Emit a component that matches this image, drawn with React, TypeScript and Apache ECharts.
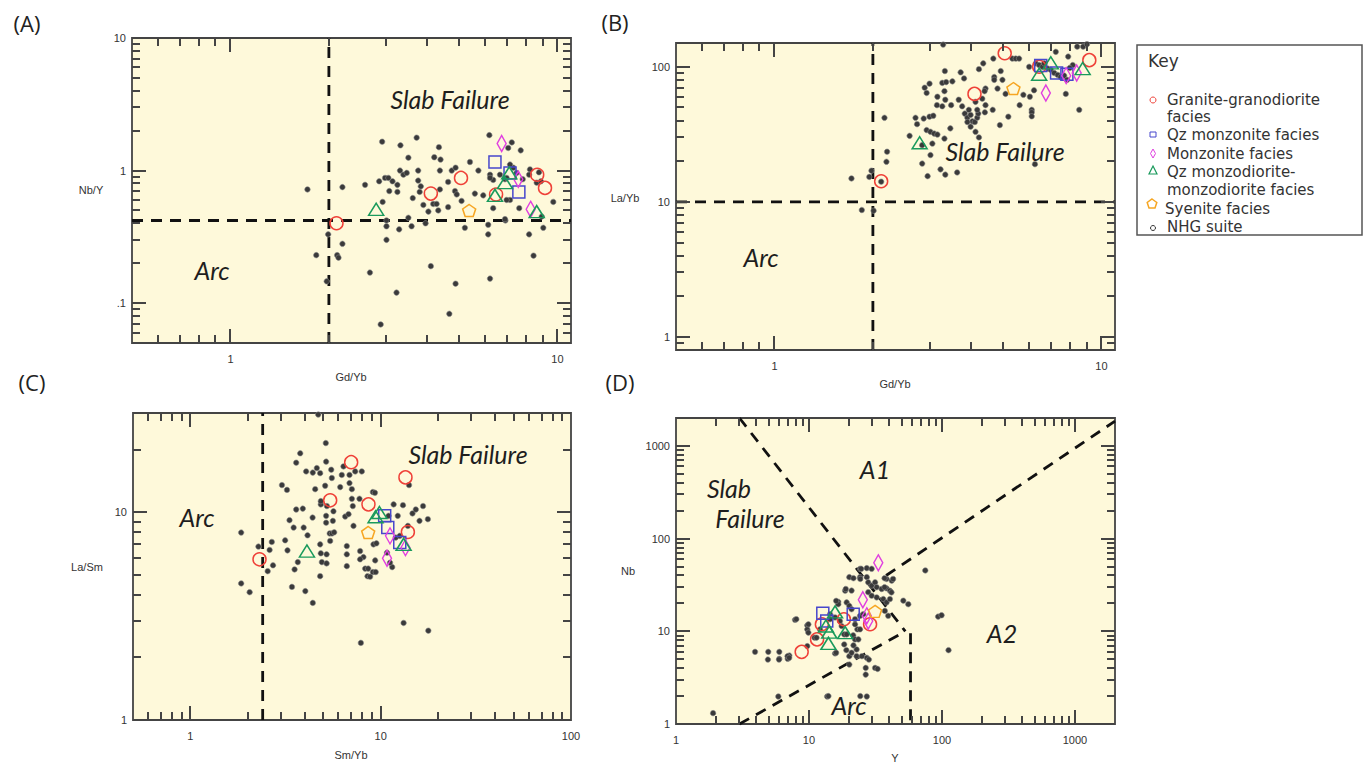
import React, { useEffect, useRef } from "react";
import * as echarts from "echarts";

// ---------------- DATA ----------------
// Panel A: Nb/Y vs Gd/Yb
const aNHG = [[1.72,0.72],[2.2,0.75],[2.58,0.78],[2.85,0.83],[2.97,0.88],[3.04,0.88],[3.13,0.83],[3.24,0.78],[3.06,0.7],[3.24,0.69],[2.92,0.58],[3.3,1.0],[3.38,0.93],[3.46,0.96],[3.5,1.25],[3.31,1.55],[2.91,1.65],[3.71,1.77],[3.75,1.0],[3.75,0.84],[3.82,0.76],[3.79,0.69],[3.89,0.55],[4.03,0.49],[4.17,0.56],[4.27,0.56],[4.32,0.5],[4.2,1.26],[4.39,1.21],[4.34,1.5],[4.37,1.0],[4.37,0.72],[3.61,0.62],[4.63,0.53],[4.63,0.82],[4.75,1.0],[4.88,1.05],[4.86,0.7],[4.92,0.66],[5.09,0.59],[5.4,1.16],[5.73,1.0],[5.59,0.67],[5.93,0.65],[6.19,1.85],[6.22,0.93],[6.36,0.52],[5.21,0.37],[6.14,0.39],[6.14,0.33],[6.91,0.86],[7.16,0.6],[6.93,0.42],[3.5,0.44],[3.58,0.38],[3.95,0.4],[3.28,0.36],[3.0,0.38],[3.0,0.3],[3.0,0.42],[2.2,0.28],[1.99,0.33],[1.83,0.23],[2.12,0.23],[2.14,0.22],[1.97,0.146],[2.67,0.17],[3.22,0.12],[4.1,0.19],[4.88,0.14],[6.22,0.153],[4.67,0.083],[2.88,0.069],[7.72,1.42],[7.07,1.48],[7.33,1.05],[7.5,0.96],[7.83,0.86],[8.24,1.02],[8.19,0.93],[8.64,0.81],[9.71,0.58],[9.05,0.37],[8.19,0.33],[8.45,0.228],[7.64,0.52],[8.95,0.45],[6.99,0.6],[6.91,0.43],[6.67,0.93],[6.99,0.88],[7.16,1.11],[6.36,0.85],[6.22,0.88],[7.25,1.63],[8.78,0.97],[8.9,0.83]];
const aGranite = [[2.11,0.4],[4.1,0.67],[5.07,0.88],[6.49,0.66],[8.67,0.93],[9.16,0.74]];
const aQzMonzonite = [[6.44,1.16],[7.16,0.96],[7.62,0.69]];
const aMonzonite = [[6.75,1.6],[7.59,0.86],[8.28,0.51]];
const aQzMonzodiorite = [[2.79,0.51],[6.44,0.65],[6.91,0.81],[7.12,0.96],[8.64,0.49]];
const aSyenite = [[5.37,0.5]];

// Panel B: La/Yb vs Gd/Yb
const bNHG = [[1.72,14.9],[1.95,15.3],[2.12,14.1],[2.17,41.9],[2.21,23.5],[2.2,19.8],[2.59,30.8],[2.7,41.9],[2.73,37.6],[2.86,41.4],[2.98,42.7],[3.06,43.4],[2.92,34],[3.0,33],[3.08,32],[3.15,31.5],[2.88,70],[2.92,64],[2.98,75],[2.83,26.3],[2.83,19.2],[3.0,22.2],[2.94,15.5],[3.15,60],[3.14,52],[3.26,76],[3.35,77],[3.5,78],[3.32,93],[3.31,66],[3.33,57],[3.26,51],[3.47,52],[3.45,35],[3.31,29.4],[3.22,17.4],[3.33,15.9],[3.62,16.5],[3.04,27],[3.71,91],[3.8,82],[3.75,51],[3.82,45],[3.89,42],[3.98,44],[4.03,39.5],[3.89,39],[4.1,39],[4.17,42],[4.2,45],[3.93,48],[4.17,48],[4.4,46],[3.98,36],[4.12,33],[4.22,30],[4.22,96],[4.35,106],[4.42,69],[4.39,66],[4.42,52],[4.65,48],[4.67,115],[4.7,84],[4.7,80],[4.92,93],[4.98,80],[4.81,69],[4.89,37],[5.19,42.7],[5.09,63],[5.34,115],[5.47,115],[5.6,115],[5.62,52],[5.77,62],[6.04,60],[6.12,48],[6.12,46],[6.12,43],[6.01,100],[6.22,67],[6.26,19],[6.3,106],[6.45,103],[6.6,100],[6.68,106],[6.85,97],[7.0,95],[7.17,90],[7.35,87],[7.5,84],[7.69,86],[7.85,80],[7.25,129],[7.91,119],[7.78,63],[8.55,48],[8.43,141],[8.79,141],[9.03,147],[8.17,103],[8.0,98],[3.28,146],[3.66,57],[4.32,58],[4.12,55],[1.85,8.7],[2.01,8.6],[1.98,17]];
const bGranite = [[2.12,14.2],[4.09,63],[5.06,126],[9.18,112],[6.45,100]];
const bQzMonzonite = [[6.52,102],[7.29,90],[7.84,88]];
const bMonzonite = [[6.76,64],[7.8,86],[8.4,90]];
const bQzMonzodiorite = [[2.78,27.4],[6.45,88],[7.0,107],[8.76,97]];
const bSyenite = [[5.38,69]];

// Panel C: La/Sm vs Sm/Yb
const cNHG = [[1.85,7.98],[1.85,4.54],[2.05,4.12],[2.28,6.83],[2.55,5.2],[2.72,5.55],[2.61,6.58],[2.68,7.19],[3.03,13.5],[3.22,12.8],[3.15,7.32],[3.24,6.55],[3.32,9.15],[3.49,8.43],[3.6,10.3],[3.9,10.4],[3.6,17.3],[3.78,19.2],[3.53,5.3],[3.67,5.75],[3.42,4.37],[3.94,8.43],[4.02,4.17],[4.06,15.7],[4.13,7.74],[4.39,9.42],[4.4,3.66],[4.53,12.9],[4.4,15.5],[4.62,16.3],[4.81,15.4],[4.85,10.9],[4.85,11.3],[4.81,7.0],[4.85,6.34],[4.91,5.75],[4.81,4.92],[5.15,21.5],[5.17,17.5],[5.11,13.4],[5.17,9.6],[5.17,8.9],[5.22,10.7],[5.2,6.27],[5.2,5.67],[5.4,7.9],[5.55,7.9],[5.7,8.0],[5.43,7.27],[5.5,16],[5.54,14.6],[5.65,10.1],[5.61,9.08],[6.13,13.2],[6.25,15.1],[6.38,16.6],[6.51,9.53],[6.64,6.87],[6.64,6.27],[6.64,5.5],[6.78,9.78],[6.86,13.8],[6.86,15.1],[7.06,12.9],[7.06,11.6],[7.14,10.7],[7.2,8.59],[7.35,15.7],[7.96,15.7],[7.74,11.6],[7.8,6.5],[7.87,2.35],[8.12,6.08],[8.29,5.35],[8.53,4.92],[9.1,12.5],[9.17,7.0],[9.1,5.15],[9.36,5.86],[4.7,29.5],[9.33,12.4],[11.7,10.9],[13.1,10.8],[14.7,9.86],[15.3,10.3],[16.7,10.7],[16,9.08],[17.7,9.25],[14.1,13.5],[12.3,9.6],[13.2,2.93],[17.8,2.69],[11.5,5.44],[11.2,5.71],[10.8,6.38],[12.0,7.55],[12.6,7.69],[9.42,5.15],[8.8,4.89],[8.6,5.35],[9.5,7.08],[13.9,8.59],[11,9.6],[7.8,5.93]];
const cGranite = [[2.31,5.93],[7.0,17.4],[5.43,11.4],[8.63,10.9],[13.5,14.7],[13.9,8.03]];
const cQzMonzonite = [[10.5,9.6],[10.9,8.43],[12.6,7.14]];
const cMonzonite = [[11.2,7.69],[10.8,6.0],[13.5,6.75]];
const cQzMonzodiorite = [[4.1,6.5],[9.85,9.96],[9.4,9.5],[13.2,7.0]];
const cSyenite = [[8.6,7.98]];

// Panel D: Nb vs Y
const dNHG = [[3.93,6.0],[4.94,6.0],[5.98,6.0],[5.98,5.05],[7.11,5.48],[6.92,5.05],[7.85,13.3],[9.71,11.6],[9.71,10.5],[9.71,6.92],[11.0,8.54],[5.88,1.98],[13.7,1.98],[15.7,5.77],[16.6,20.8],[16.6,19.6],[18.7,27.4],[19.2,20.5],[20.1,18.8],[20.9,17.3],[18.4,9.27],[18.4,7.22],[20.1,5.39],[20.9,5.87],[20.1,4.38],[22.8,5.39],[21.5,9.05],[22.2,8.18],[23.1,10.5],[24.2,10.5],[22.2,11.9],[22.2,13.5],[24.2,14.7],[25.6,15.3],[26.7,4.03],[26.7,3.41],[31.4,4.03],[27.2,1.98],[24.2,47.2],[27.2,48],[29.6,47.2],[24.2,38.4],[27.2,38.4],[20.1,38.4],[27.9,33.8],[29.6,31.1],[31.4,33.8],[32.3,29.9],[35.2,28.6],[38.3,29.1],[40.6,27.4],[27.9,26.4],[29.6,24.2],[32.3,23.2],[36.2,22.3],[38.3,20.5],[40.6,22.3],[37.2,16.6],[39.4,14.7],[38.3,36.7],[41.9,35.2],[51.2,21.4],[55.8,19.6],[23.5,8.18],[22.8,6.37],[27.2,5.18],[14.4,15.3],[14.4,13.5],[15.7,14.1],[12.1,10.5],[11.4,8.54],[17.1,12.9],[17.6,11.4],[19.2,9.27],[1.9,1.31],[14,2.0],[24.3,2.0],[32.8,3.93],[74.9,45.3],[93.5,14.4],[99.3,14.9],[112,6.26],[41.7,26.3],[42.9,36.7],[37,29.9],[37,37.4],[24.7,47.2],[21.6,37.4],[24.3,36.7],[20.9,27.5],[18.9,28.6],[16,21.3],[8.03,13.5],[9.89,11.9],[9.89,9.68],[6.9,5.39],[7.1,5.18],[4.91,4.96],[5.95,4.96],[16,5.87],[19.1,6.26],[21.6,7.05],[25,5.39],[28.2,4.96]];
const dGranite = [[8.81,6.0],[11.5,8.18],[12.5,11.9],[18.3,13.5],[28.8,11.9]];
const dQzMonzonite = [[12.7,15.7],[21.5,15.3],[13.6,12.9]];
const dMonzonite = [[33.2,54.8],[25.4,21.9],[27.2,14.7],[27.9,12.9]];
const dQzMonzodiorite = [[13.4,11.4],[14,7.41],[15.7,16.2],[18.7,9.68],[14.2,9.8]];
const dSyenite = [[31.4,16.4]];

// Boundary lines (data coordinates)
const aBoundaries = [[[2, 0.05], [2, 10]], [[0.5, 0.42], [11, 0.42]]];
const bBoundaries = [[[2, 0.8], [2, 150]], [[0.5, 10], [11, 10]]];
const cBoundaries = [[[2.4, 1], [2.4, 30]]];
const dBoundaries = [
  [[3, 2000], [53, 10]],
  [[3, 1], [53, 10]],
  [[58, 9.5], [58, 1]],
  [[38, 40], [2000, 1850]],
];

// Axis ranges
const aRange = { x: [0.5, 11], y: [0.05, 10] };
const bRange = { x: [0.5, 11], y: [0.8, 150] };
const cRange = { x: [0.5, 100], y: [1, 30] };
const dRange = { x: [1, 2000], y: [1, 2000] };

// Tick positions (major ticks are the labelled decades)
const abXTicks = [0.6, 0.7, 0.8, 0.9, 1, 2, 3, 4, 5, 6, 7, 8, 9, 10];
const aYTicks = [0.06, 0.07, 0.08, 0.09, 0.1, 0.2, 0.3, 0.4, 0.5, 0.6, 0.7, 0.8, 0.9, 1, 2, 3, 4, 5, 6, 7, 8, 9];
const bYTicks = [0.9, 1, 2, 3, 4, 5, 6, 7, 8, 9, 10, 20, 30, 40, 50, 60, 70, 80, 90, 100];
const cXTicks = [0.6, 0.7, 0.8, 0.9, 1, 2, 3, 4, 5, 6, 7, 8, 9, 10, 20, 30, 40, 50, 60, 70, 80, 90];
const cYTicks = [2, 3, 4, 5, 6, 7, 8, 9, 10, 20];
const dTicks = [2, 3, 4, 5, 6, 7, 8, 9, 10, 20, 30, 40, 50, 60, 70, 80, 90, 100, 200, 300, 400, 500, 600, 700, 800, 900, 1000];

const legendNames = [
  "Granite-granodiorite facies",
  "Qz monzonite facies",
  "Monzonite facies",
  "Qz monzodiorite-monzodiorite facies",
  "Syenite facies",
  "NHG suite",
];

// ---------------- STYLE ----------------
const BG = "#FEF9DA";
const RED = "#EF4138";
const BLUE = "#4747CC";
const MAG = "#E040E0";
const GREEN = "#1A9A5C";
const ORANGE = "#F6A623";
const FRAME = "#444444";
const PENTA = "path://M50,0 L97.6,34.5 L79.4,90.5 L20.6,90.5 L2.4,34.5 Z";
const LBL_FONT = "'Liberation Sans', Arial, sans-serif";
const REGION_FONT = "Lato, 'Open Sans', sans-serif";

const panels = [
  {
    grid: { left: 132, top: 38, width: 439, height: 305 },
    range: aRange, lines: aBoundaries, xt: abXTicks, yt: aYTicks,
    sets: [aNHG, aGranite, aQzMonzonite, aMonzonite, aQzMonzodiorite, aSyenite],
  },
  {
    grid: { left: 676, top: 43, width: 439, height: 307 },
    range: bRange, lines: bBoundaries, xt: abXTicks, yt: bYTicks,
    sets: [bNHG, bGranite, bQzMonzonite, bMonzonite, bQzMonzodiorite, bSyenite],
  },
  {
    grid: { left: 133, top: 413, width: 438, height: 307 },
    range: cRange, lines: cBoundaries, xt: cXTicks, yt: cYTicks,
    sets: [cNHG, cGranite, cQzMonzonite, cMonzonite, cQzMonzodiorite, cSyenite],
  },
  {
    grid: { left: 676, top: 418, width: 439, height: 306 },
    range: dRange, lines: dBoundaries, xt: dTicks, yt: dTicks,
    sets: [dNHG, dGranite, dQzMonzonite, dMonzonite, dQzMonzodiorite, dSyenite],
  },
];

function isDecade(v: number) {
  const l = Math.log10(v);
  return Math.abs(l - Math.round(l)) < 1e-6;
}

function decadeLabel(v: number) {
  const l = Math.log10(v);
  const r = Math.round(l);
  if (Math.abs(l - r) > 1e-6) return "";
  if (r === -1) return ".1";
  return String(Math.round(Math.pow(10, r)));
}

function buildOption() {
  const grid: any[] = [];
  const xAxis: any[] = [];
  const yAxis: any[] = [];
  const series: any[] = [];

  panels.forEach((p, i) => {
    grid.push({
      ...p.grid, show: true, backgroundColor: BG, borderColor: FRAME, borderWidth: 1.8,
    });
    const axisCommon = {
      type: "log", logBase: 10, gridIndex: i,
      axisLine: { show: false }, axisTick: { show: false }, splitLine: { show: false },
      minorTick: { show: false }, minorSplitLine: { show: false },
    };
    xAxis.push({
      ...axisCommon, min: p.range.x[0], max: p.range.x[1],
      axisLabel: { formatter: decadeLabel, color: "#333", fontSize: 11, fontFamily: LBL_FONT, margin: 10 },
    });
    yAxis.push({
      ...axisCommon, min: p.range.y[0], max: p.range.y[1],
      axisLabel: { formatter: decadeLabel, color: "#333", fontSize: 11, fontFamily: LBL_FONT, margin: 6 },
    });

    p.lines.forEach((ln) => {
      series.push({
        type: "line", xAxisIndex: i, yAxisIndex: i, data: ln, symbol: "none", showSymbol: false,
        silent: true, z: 3, clip: false, lineStyle: { color: "#111", width: 2.8, type: [11, 8] },
      });
    });

    const [nhg, gran, qzm, monz, qzmd, syen] = p.sets;
    series.push({
      type: "scatter", name: legendNames[5], xAxisIndex: i, yAxisIndex: i, data: nhg, z: 4,
      symbol: "circle", symbolSize: 5.5,
      itemStyle: { color: "#3a3a3a", borderColor: "#8a8a8a", borderWidth: 0.6, opacity: 1 },
    });
    const open = (c: string) => ({ color: "rgba(0,0,0,0)", borderColor: c, borderWidth: 1.5, opacity: 1 });
    series.push({ type: "scatter", name: legendNames[0], xAxisIndex: i, yAxisIndex: i, data: gran, z: 5, symbol: "circle", symbolSize: 13, itemStyle: open(RED) });
    series.push({ type: "scatter", name: legendNames[1], xAxisIndex: i, yAxisIndex: i, data: qzm, z: 5, symbol: "rect", symbolSize: 12, itemStyle: open(BLUE) });
    series.push({ type: "scatter", name: legendNames[2], xAxisIndex: i, yAxisIndex: i, data: monz, z: 5, symbol: "diamond", symbolSize: [9, 16], itemStyle: open(MAG) });
    series.push({ type: "scatter", name: legendNames[3], xAxisIndex: i, yAxisIndex: i, data: qzmd, z: 5, symbol: "triangle", symbolSize: [15, 12], itemStyle: open(GREEN) });
    series.push({ type: "scatter", name: legendNames[4], xAxisIndex: i, yAxisIndex: i, data: syen, z: 5, symbol: PENTA, symbolSize: [13, 12], itemStyle: open(ORANGE) });
  });

  return { animation: false, backgroundColor: "#fff", grid, xAxis, yAxis, series };
}

function buildGraphic(tickEls: any[]) {
  const txt = (text: string, x: number, y: number, font: any) => ({
    type: "text", x, y, z: 100, silent: true,
    style: { text, fill: "#222", align: "center", verticalAlign: "middle", ...font },
  });
  const region = { fontSize: 25, fontStyle: "italic", fontFamily: REGION_FONT, fill: "#1e1e1e" };
  const axname = { fontSize: 11, fontFamily: LBL_FONT, fill: "#333" };
  const plab = { fontSize: 22, fontFamily: "'Open Sans', sans-serif", fill: "#222" };
  const key = { fontSize: 15, fontFamily: "'DejaVu Sans', Verdana, sans-serif", fill: "#333", align: "left" };
  return [
    ...tickEls,
    txt("(A)", 27, 23, plab), txt("(B)", 615, 22, plab), txt("(C)", 32, 382, plab), txt("(D)", 620, 382, plab),
    txt("Slab Failure", 450, 99, region), txt("Arc", 212, 270, region),
    txt("Slab Failure", 1005, 151, region), txt("Arc", 761, 257, region),
    txt("Slab Failure", 468, 454, region), txt("Arc", 197, 517, region),
    txt("A1", 875, 469, region), txt("Slab", 729, 488, region), txt("Failure", 750, 518, region),
    txt("A2", 1002, 633, region), txt("Arc", 849, 705, region),
    txt("Nb/Y", 91, 190, axname), txt("Gd/Yb", 351, 377, axname),
    txt("La/Yb", 625, 198, axname), txt("Gd/Yb", 895, 384, axname),
    txt("La/Sm", 87, 567, axname), txt("Sm/Yb", 351, 755, axname),
    txt("Nb", 628, 571, axname), txt("Y", 895, 758, axname),
    { type: "rect", z: 90, shape: { x: 1137, y: 45, width: 225, height: 190 }, style: { fill: "#fff", stroke: "#555", lineWidth: 1.5 } },
    txt("Key", 1148, 61, { ...key, fontSize: 17 }),
    txt("Granite-granodiorite", 1167, 100, key), txt("facies", 1167, 117, key),
    txt("Qz monzonite facies", 1167, 135, key),
    txt("Monzonite facies", 1167, 154, key),
    txt("Qz monzodiorite-", 1167, 172, key), txt("monzodiorite facies", 1167, 190, key),
    txt("Syenite facies", 1165, 209, key),
    txt("NHG suite", 1167, 227, key),
    { type: "circle", z: 100, shape: { cx: 1153, cy: 100, r: 3 }, style: { fill: "none", stroke: RED, lineWidth: 1 } },
    { type: "rect", z: 100, shape: { x: 1150, y: 132, width: 6, height: 5 }, style: { fill: "none", stroke: BLUE, lineWidth: 1 } },
    { type: "polygon", z: 100, shape: { points: [[1153, 149], [1155.5, 153.5], [1153, 158], [1150.5, 153.5]] }, style: { fill: "none", stroke: MAG, lineWidth: 1 } },
    { type: "polygon", z: 100, shape: { points: [[1153, 166], [1157, 174], [1149, 174]] }, style: { fill: "none", stroke: GREEN, lineWidth: 1.2 } },
    { type: "polygon", z: 100, shape: { points: [[1152, 199], [1156.8, 202.5], [1155, 208], [1149, 208], [1147.2, 202.5]] }, style: { fill: "none", stroke: ORANGE, lineWidth: 1.5 } },
    { type: "circle", z: 100, shape: { cx: 1153, cy: 228, r: 2.5 }, style: { fill: "none", stroke: "#333", lineWidth: 1 } },
  ];
}

// Pixel position of a value on a panel's axis, asked from the chart's own axis.
function axisPixel(chart: any, dim: string, i: number, v: number) {
  const p = panels[i];
  let r: any;
  try {
    r = chart.convertToPixel(dim === "x" ? { xAxisIndex: i } : { yAxisIndex: i }, v);
  } catch (e) { r = undefined; }
  if (Array.isArray(r)) r = dim === "x" ? r[0] : r[1];
  if (typeof r === "number" && isFinite(r)) return r;
  const ab = dim === "x" ? p.range.x : p.range.y;
  const t = (Math.log10(v) - Math.log10(ab[0])) / (Math.log10(ab[1]) - Math.log10(ab[0]));
  return dim === "x" ? p.grid.left + t * p.grid.width : p.grid.top + p.grid.height - t * p.grid.height;
}

function tickRect(x: number, y: number, w: number, h: number) {
  return { type: "rect", z: 95, silent: true, shape: { x, y, width: w, height: h }, style: { fill: FRAME } };
}

// Inward log ticks, mirrored on all four sides of every panel.
function buildTicks(chart: any) {
  const out: any[] = [];
  const tw = 2;
  panels.forEach((p, i) => {
    const left = p.grid.left, right = p.grid.left + p.grid.width;
    const top = p.grid.top, bottom = p.grid.top + p.grid.height;
    p.xt.forEach((v: number) => {
      const len = isDecade(v) ? 14 : 8;
      const x = Math.round(axisPixel(chart, "x", i, v)) - 1;
      out.push(tickRect(x, bottom - len, tw, len));
      out.push(tickRect(x, top, tw, len));
    });
    p.yt.forEach((v: number) => {
      const len = isDecade(v) ? 14 : 8;
      const y = Math.round(axisPixel(chart, "y", i, v)) - 1;
      out.push(tickRect(left, y, len, tw));
      out.push(tickRect(right - len, y, len, tw));
    });
  });
  return out;
}

export default function App() {
  const ref = useRef<HTMLDivElement>(null);
  useEffect(() => {
    document.body.style.margin = "0";
    const chart = echarts.init(ref.current as HTMLDivElement, null, { renderer: "svg", width: 1365, height: 765 });
    chart.setOption(buildOption() as any);
    let ticks: any[] = [];
    try { ticks = buildTicks(chart); } catch (e) { ticks = []; }
    chart.setOption({ graphic: buildGraphic(ticks) } as any);
    return () => chart.dispose();
  }, []);
  return <div ref={ref} style={{ position: "absolute", left: 0, top: 0, width: 1365, height: 765, background: "#fff" }} />;
}
